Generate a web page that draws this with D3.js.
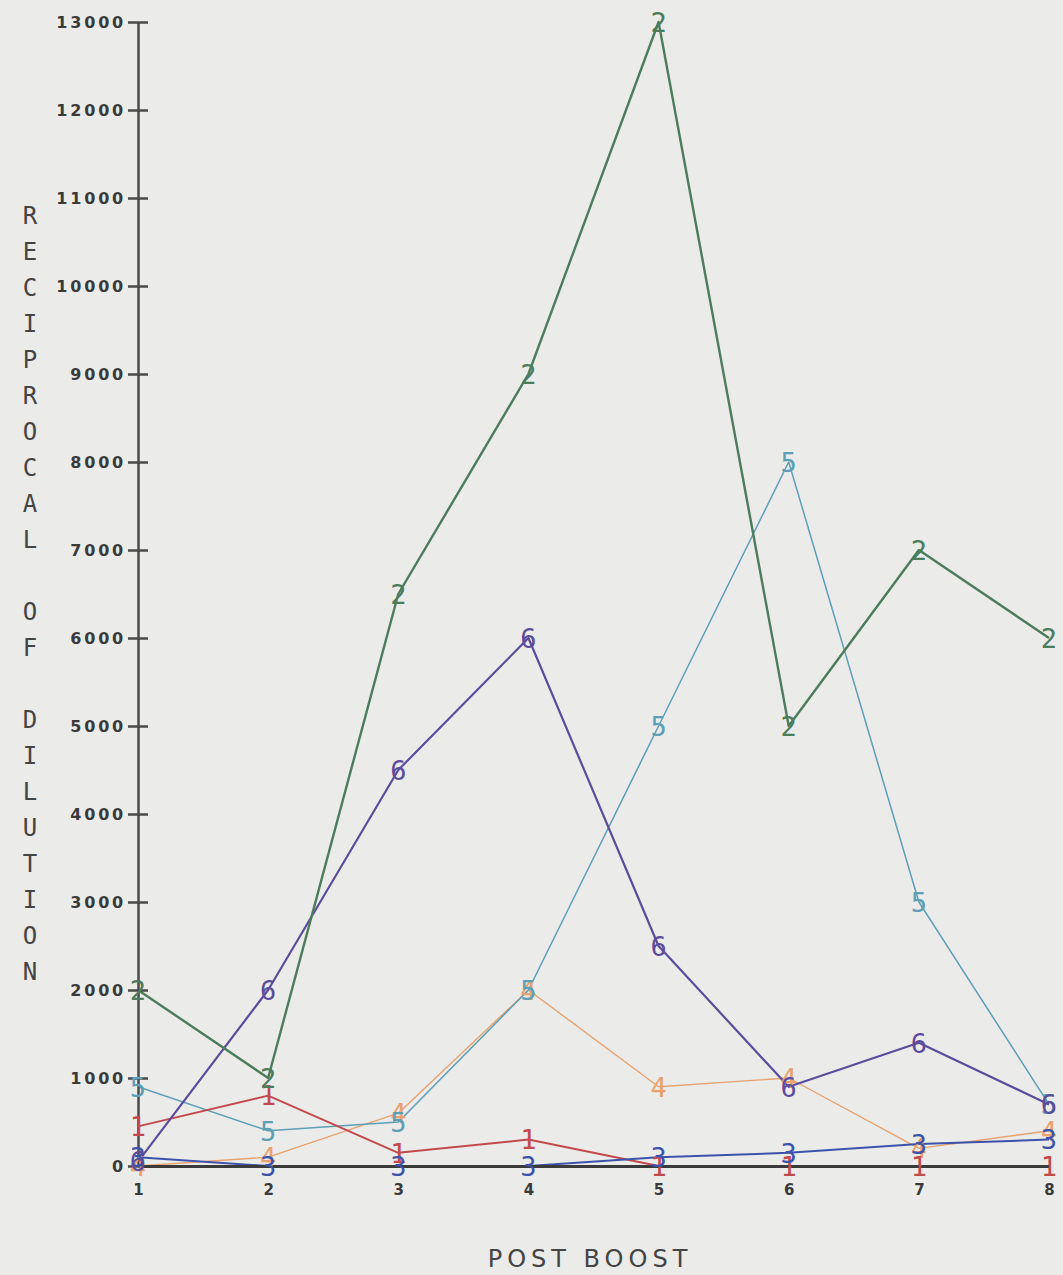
<!DOCTYPE html>
<html>
<head>
<meta charset="utf-8">
<script src="https://cdn.jsdelivr.net/npm/d3@7"></script>
<style>
  html, body { margin: 0; padding: 0; background: #ebebea; }
  svg { display: block; }
</style>
</head>
<body>
<svg id="chart" width="1063" height="1275"></svg>
<script>
// ---- data ----
const boosts = [1, 2, 3, 4, 5, 6, 7, 8];
const yTicks = [0, 1000, 2000, 3000, 4000, 5000, 6000, 7000, 8000, 9000, 10000, 11000, 12000, 13000];
const series1 = [450, 800, 150, 300, 0, 0, 0, 0];
const series2 = [2000, 1000, 6500, 9000, 13000, 5000, 7000, 6000];
const series3 = [100, 0, 0, 0, 100, 150, 250, 300];
const series4 = [0, 100, 600, 2000, 900, 1000, 200, 400];
const series5 = [900, 400, 500, 2000, 5000, 8000, 3000, 700];
const series6 = [50, 2000, 4500, 6000, 2500, 900, 1400, 700];
const seriesLabels = ["1", "2", "3", "4", "5", "6"];
const yTitle = "RECIPROCAL OF DILUTION";
const xTitle = "POST BOOST";

const seriesList = [
  { label: "4", values: series4, color: "#e9a26f", width: 1.4 },
  { label: "5", values: series5, color: "#5f9fb6", width: 1.5 },
  { label: "1", values: series1, color: "#c24a4c", width: 2 },
  { label: "3", values: series3, color: "#3d52aa", width: 2 },
  { label: "6", values: series6, color: "#5c4c9c", width: 2.2 },
  { label: "2", values: series2, color: "#4d7c5d", width: 2.4 }
];

const svg = d3.select("#chart");
const x = d3.scaleLinear().domain([1, 8]).range([138, 1049]);
const y = d3.scaleLinear().domain([0, 13000]).range([1166, 22]);

// lines
const line = d3.line().x((d, i) => x(boosts[i])).y(d => y(d));
seriesList.forEach(s => {
  svg.append("path")
    .attr("d", line(s.values))
    .attr("fill", "none")
    .attr("stroke", s.color)
    .attr("stroke-width", s.width)
    .attr("stroke-linejoin", "round");
});

// axes
const axisColor = "#4a4a4a";
const yAxis = d3.axisLeft(y).tickValues(yTicks).tickSizeInner(10).tickSizeOuter(0).tickPadding(4).tickFormat(d3.format("d"));
const yg = svg.append("g").attr("transform", "translate(138,0)").call(yAxis);
yg.select(".domain").attr("stroke", axisColor).attr("stroke-width", 2.5);
yg.selectAll(".tick line").attr("stroke", axisColor).attr("stroke-width", 2.5).attr("x2", 10).attr("x1", -10);
yg.selectAll(".tick text")
  .attr("fill", "#3a3a3a")
  .attr("font-family", "DejaVu Sans")
  .attr("font-weight", "bold")
  .attr("font-size", 16)
  .attr("letter-spacing", 2.8)
  .attr("x", -12)
  .attr("dy", "0.36em");

const xAxis = d3.axisBottom(x).tickValues(boosts).tickSize(0).tickPadding(18).tickFormat(d3.format("d"));
const xg = svg.append("g").attr("transform", "translate(0,1166)").call(xAxis);
xg.select(".domain").attr("stroke", "#3a3a3a").attr("stroke-width", 3);
xg.selectAll(".tick text")
  .attr("fill", "#3a3a3a")
  .attr("font-family", "DejaVu Sans")
  .attr("font-weight", "bold")
  .attr("font-size", 15);

// markers
seriesList.forEach(s => {
  svg.append("g").selectAll("text")
    .data(s.values)
    .join("text")
    .attr("x", (d, i) => x(boosts[i]))
    .attr("y", d => y(d))
    .attr("dy", "0.36em")
    .attr("text-anchor", "middle")
    .attr("fill", s.color)
    .attr("font-family", "DejaVu Sans Mono")
    .attr("font-size", 27)
    .text(s.label);
});

// y title (stacked letters)
const yChars = yTitle.split("");
svg.append("g").selectAll("text")
  .data(yChars)
  .join("text")
  .attr("x", 30)
  .attr("y", (d, i) => 215 + i * 36)
  .attr("dy", "0.36em")
  .attr("text-anchor", "middle")
  .attr("fill", "#444")
  .attr("font-family", "DejaVu Sans Mono")
  .attr("font-size", 24)
  .text(d => d);

// x title
svg.append("text")
  .attr("x", 590)
  .attr("y", 1258)
  .attr("dy", "0.36em")
  .attr("text-anchor", "middle")
  .attr("fill", "#444")
  .attr("font-family", "DejaVu Sans")
  .attr("font-size", 24)
  .attr("letter-spacing", 5)
  .text(xTitle);
</script>
</body>
</html>
